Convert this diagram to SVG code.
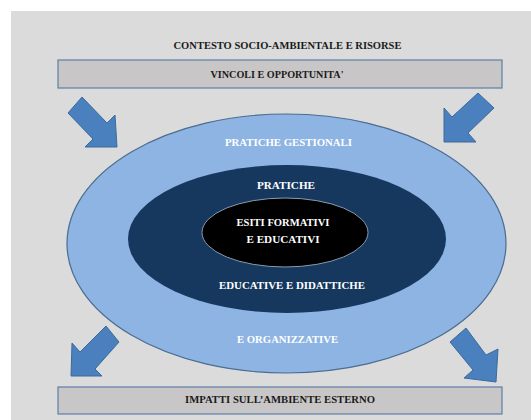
<svg xmlns="http://www.w3.org/2000/svg" width="531" height="420" viewBox="0 0 531 420">
<defs>
<style>
.t{font-family:"Liberation Serif","Times New Roman",serif;font-weight:bold;font-size:9.5px;text-anchor:middle}
.dk{fill:#1a1a1a}
.wt{fill:#ffffff}
.bar{fill:#c8c6c6;stroke:#5d7fa6;stroke-width:1.2}
.arr{fill:#4a80bd;stroke:#3b6b9c;stroke-width:1}
</style>
</defs>
<rect x="0" y="0" width="531" height="420" fill="#ffffff"/>
<rect x="11" y="11" width="520" height="409" fill="#dbdbdb"/>
<text class="t dk" x="287.5" y="49" textLength="228" lengthAdjust="spacingAndGlyphs">CONTESTO SOCIO-AMBIENTALE E RISORSE</text>
<g id="vincoli">
<rect class="bar" x="58" y="60" width="444" height="28"/>
<text class="t dk" x="277" y="78" textLength="133" lengthAdjust="spacingAndGlyphs">VINCOLI E OPPORTUNITA'</text>
</g>
<g id="impatti">
<rect class="bar" x="58" y="387" width="444" height="27"/>
<text class="t dk" x="280" y="403" textLength="190" lengthAdjust="spacingAndGlyphs">IMPATTI SULL’AMBIENTE ESTERNO</text>
</g>
<g id="connectors">
<polygon class="arr" points="82,97 107,123 115,115 117,147 85,147 93,139 68,113"/>
<polygon class="arr" points="478,93 452,117 444,108 444,142 476,142 468,133 494,108"/>
<polygon class="arr" points="106,326 80,352 72,343 71,376 102,376 95,369 119,342"/>
<polygon class="arr" points="466,328 486,355 498,349 496,382 464,378 473,370 450,342"/>
</g>
<g id="pratiche-gestionali">
<ellipse cx="286.5" cy="243.5" rx="219.5" ry="129.5" fill="#8db4e2" stroke="#4b6d92" stroke-width="1.2"/>
<text class="t wt" x="288.5" y="146" textLength="127" lengthAdjust="spacingAndGlyphs">PRATICHE GESTIONALI</text>
<text class="t wt" x="287.5" y="343" textLength="101" lengthAdjust="spacingAndGlyphs">E ORGANIZZATIVE</text>
</g>
<g id="pratiche-educative">
<ellipse cx="287" cy="239" rx="159" ry="74" fill="#16385f"/>
<text class="t wt" x="286" y="189" textLength="58" lengthAdjust="spacingAndGlyphs">PRATICHE</text>
<text class="t wt" x="292" y="289" textLength="146" lengthAdjust="spacingAndGlyphs">EDUCATIVE E DIDATTICHE</text>
</g>
<g id="esiti">
<ellipse cx="285" cy="232.5" rx="83" ry="34.5" fill="#000000" stroke="#8a9aae" stroke-width="1"/>
<text class="t wt" x="283" y="226" textLength="93" lengthAdjust="spacingAndGlyphs">ESITI FORMATIVI</text>
<text class="t wt" x="283" y="243" textLength="73" lengthAdjust="spacingAndGlyphs">E  EDUCATIVI</text>
</g>
</svg>
